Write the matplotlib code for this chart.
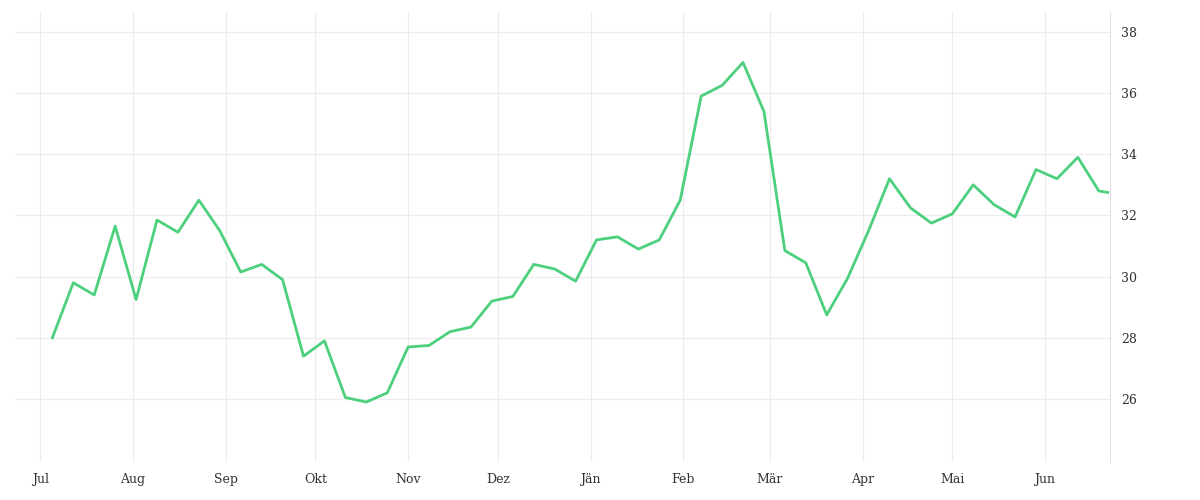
import matplotlib
matplotlib.use("Agg")
import matplotlib.pyplot as plt
import matplotlib.dates as mdates
import pandas as pd

dates = list(pd.date_range("2023-07-05", periods=51, freq="7D")) + [pd.Timestamp("2024-06-22")]
values = [28.0, 29.8, 29.4, 31.65, 29.25, 31.85, 31.45, 32.5, 31.5, 30.15, 30.4, 29.9,
          27.4, 27.9, 26.05, 25.9, 26.2, 27.7, 27.75, 28.2, 28.35, 29.2, 29.35, 30.4,
          30.25, 29.85, 31.2, 31.3, 30.9, 31.2, 32.5, 35.9, 36.25, 37.0, 35.4, 30.85,
          30.45, 28.75, 29.95, 31.5, 33.2, 32.25, 31.75, 32.05, 33.0, 32.35, 31.95,
          33.5, 33.2, 33.9, 32.8, 32.75]
month_labels = ["Jul", "Aug", "Sep", "Okt", "Nov", "Dez", "Jän", "Feb", "Mär", "Apr", "Mai", "Jun"]
month_ticks = pd.date_range("2023-07-01", periods=12, freq="MS")
yticks = [26, 28, 30, 32, 34, 36, 38]

plt.rcParams['font.family'] = ['DejaVu Serif']
fig = plt.figure(figsize=(12, 5), dpi=100)
ax = fig.add_axes([0.0125, 0.076, 0.9125, 0.9])
ax.plot(dates, values, color="#4cd07d", linewidth=2)
ax.set_xlim(pd.Timestamp("2023-06-22 12:00"), pd.Timestamp("2024-06-22 18:00"))
ax.set_ylim(23.94, 38.65)
ax.set_xticks(month_ticks)
ax.set_xticklabels(month_labels)
ax.set_yticks(yticks)
ax.yaxis.tick_right()
ax.grid(True, color="#ececec", linewidth=0.8)
for s in ["top", "left", "bottom"]:
    ax.spines[s].set_visible(False)
ax.spines["right"].set_color("#e0e0e0")
ax.tick_params(axis="both", length=0, labelsize=9, colors="#333333", pad=8)
fig.savefig("out.png")
